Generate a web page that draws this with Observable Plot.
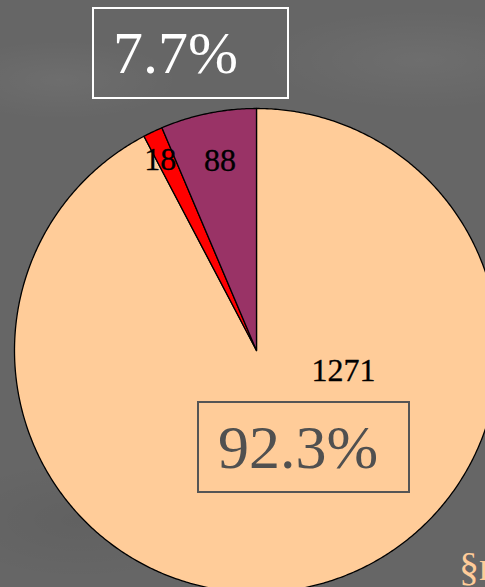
<!DOCTYPE html>
<html><head><meta charset="utf-8">
<script src="https://cdn.jsdelivr.net/npm/d3@7"></script>
<script src="https://cdn.jsdelivr.net/npm/@observablehq/plot@0.6"></script>
<style>
html,body{margin:0;padding:0;width:485px;height:587px;overflow:hidden;}
#wrap{position:relative;width:485px;height:587px;overflow:hidden;
  background:
    radial-gradient(ellipse 120px 40px at 60px 80px, rgba(255,255,255,0.05), transparent),
    radial-gradient(ellipse 160px 50px at 420px 60px, rgba(255,255,255,0.05), transparent),
    radial-gradient(ellipse 140px 60px at 80px 520px, rgba(0,0,0,0.05), transparent),
    #666666;}
#wrap svg{position:absolute;left:0;top:0;}
.box{position:absolute;box-sizing:border-box;display:flex;align-items:center;font-family:"Liberation Serif",serif;line-height:1;}
#tag{position:absolute;font-family:"Liberation Serif",serif;color:#FFCC99;font-size:40px;line-height:1;}
</style></head>
<body><div id="wrap"></div>
<script>
// Data (clockwise from 12 o'clock)
const categories = ["large", "small", "medium"];
const values = [1271, 18, 88];
const colors = ["#FFCC99", "#FF0000", "#993366"];

const total = d3.sum(values);
const fmt = v => (v / total * 100).toFixed(1) + "%";
const minorShare = fmt(values[1] + values[2]);
const majorShare = fmt(values[0]);

const arcs = d3.pie().sort(null).value(d => d)(values);

// polygon outline of each slice in unit-circle coordinates
function slicePoints(a, i) {
  const pts = [{x: 0, y: 0, k: i}];
  const n = Math.max(2, Math.ceil((a.endAngle - a.startAngle) / (Math.PI / 360)));
  for (let j = 0; j <= n; j++) {
    const t = a.startAngle + (a.endAngle - a.startAngle) * j / n;
    pts.push({x: Math.sin(t), y: Math.cos(t), k: i});
  }
  pts.push({x: 0, y: 0, k: i});
  return pts;
}

// label placement: radius fraction + pixel nudges (layout only)
const labelLayout = [{r: 0.5, dx: 58, dy: -97}, {r: 0.88, dx: -5, dy: 2}, {r: 0.8, dx: 2, dy: 0}];
const labels = arcs.map((a, i) => {
  const m = (a.startAngle + a.endAngle) / 2;
  return {x: Math.sin(m) * labelLayout[i].r, y: Math.cos(m) * labelLayout[i].r,
          text: String(values[i]), dx: labelLayout[i].dx, dy: labelLayout[i].dy};
});

const marks = arcs.map((a, i) =>
  Plot.line(slicePoints(a, i), {x: "x", y: "y", fill: colors[i], stroke: "#000", strokeWidth: 1.3, strokeLinejoin: "round"})
);
labels.forEach(l => marks.push(
  Plot.text([l], {x: "x", y: "y", text: "text", dx: l.dx, dy: l.dy, fontSize: 32, fontFamily: "Liberation Serif", fill: "#000", stroke: "#000", strokeWidth: 0.3})
));

const chart = Plot.plot({
  width: 485, height: 587, margin: 0,
  x: {domain: [-1, 1], range: [14, 498], axis: null},
  y: {domain: [-1, 1], range: [592, 108], axis: null},
  style: {background: "transparent", overflow: "hidden"},
  marks
});
const wrap = document.getElementById("wrap");
wrap.appendChild(chart);

const b1 = document.createElement("div");
b1.className = "box";
Object.assign(b1.style, {left: "92px", top: "7px", width: "197px", height: "92px", border: "2px solid #fff", color: "#fff", fontSize: "60px", paddingLeft: "19px"});
b1.textContent = minorShare;
wrap.appendChild(b1);

const b2 = document.createElement("div");
b2.className = "box";
Object.assign(b2.style, {left: "197px", top: "401px", width: "213px", height: "92px", border: "2px solid #555", color: "#505050", fontSize: "62px", paddingLeft: "19px"});
b2.textContent = majorShare;
wrap.appendChild(b2);

const tag = document.createElement("div");
tag.id = "tag";
Object.assign(tag.style, {left: "459px", top: "547px"});
tag.textContent = "§n";
wrap.appendChild(tag);
</script>
</body></html>
